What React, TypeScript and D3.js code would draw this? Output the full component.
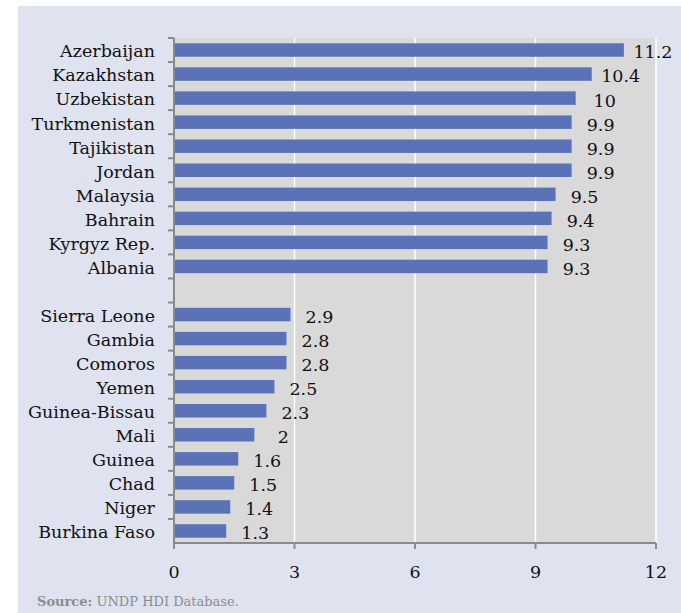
import { useEffect, useRef } from 'react';
import * as d3 from 'd3';

const topCountries = ['Azerbaijan', 'Kazakhstan', 'Uzbekistan', 'Turkmenistan', 'Tajikistan', 'Jordan', 'Malaysia', 'Bahrain', 'Kyrgyz Rep.', 'Albania'];
const topValues = [11.2, 10.4, 10, 9.9, 9.9, 9.9, 9.5, 9.4, 9.3, 9.3];
const bottomCountries = ['Sierra Leone', 'Gambia', 'Comoros', 'Yemen', 'Guinea-Bissau', 'Mali', 'Guinea', 'Chad', 'Niger', 'Burkina Faso'];
const bottomValues = [2.9, 2.8, 2.8, 2.5, 2.3, 2, 1.6, 1.5, 1.4, 1.3];
const xTicks = [0, 3, 6, 9, 12];

const W = 681;
const H = 613;

const App = () => {
  const svgRef = useRef<SVGSVGElement>(null);

  useEffect(() => {
    const svg = d3.select(svgRef.current);
    svg.selectAll('*').remove();

    const font = '"DejaVu Serif", serif';
    const fs = '17.5px';
    const left = 174, right = 656, top = 38, bottom = 543;

    // blank row separates the two groups
    const rows = [
      ...topCountries.map((c, i) => ({ key: c, label: c, value: topValues[i] })),
      { key: '__gap', label: '', value: null as number | null },
      ...bottomCountries.map((c, i) => ({ key: c, label: c, value: bottomValues[i] })),
    ];

    const x = d3.scaleLinear().domain([0, 12]).range([left, right]);
    const y = d3.scaleBand().domain(rows.map(r => r.key)).range([top, bottom])
      .paddingInner(0.44).paddingOuter(0.22);

    // outer panel
    svg.append('rect').attr('x', 18).attr('y', 6).attr('width', W - 18).attr('height', H - 6)
      .attr('fill', '#dfe3f0');

    // plot area
    svg.append('rect').attr('x', left).attr('y', top).attr('width', right - left).attr('height', bottom - top)
      .attr('fill', '#d9d9d9');

    // gridlines
    svg.append('g').selectAll('line').data(xTicks.slice(1)).enter().append('line')
      .attr('x1', d => x(d)).attr('x2', d => x(d))
      .attr('y1', top).attr('y2', bottom)
      .attr('stroke', '#ffffff').attr('stroke-width', 1.5);

    // bars
    const data = rows.filter(r => r.value !== null);
    svg.append('g').selectAll('rect').data(data).enter().append('rect')
      .attr('x', x(0))
      .attr('y', d => y(d.key)!)
      .attr('width', d => x(d.value!) - x(0))
      .attr('height', y.bandwidth())
      .attr('fill', '#5b72b6');

    // value labels
    svg.append('g').selectAll('text').data(data).enter().append('text')
      .attr('x', d => x(d.value!) + 29)
      .attr('y', d => y(d.key)! + y.bandwidth() / 2)
      .attr('dy', '0.48em')
      .attr('text-anchor', 'middle')
      .style('font-family', font).style('font-size', fs).attr('fill', '#111')
      .text(d => String(d.value));

    // category labels
    svg.append('g').selectAll('text').data(rows.filter(r => r.label)).enter().append('text')
      .attr('x', 155)
      .attr('y', d => y(d.key)! + y.bandwidth() / 2)
      .attr('dy', '0.42em')
      .attr('text-anchor', 'end')
      .style('font-family', font).style('font-size', fs).attr('fill', '#111')
      .text(d => d.label);

    const axisColor = '#8a8a8a';
    // y axis line and ticks between categories
    svg.append('line').attr('x1', left).attr('x2', left).attr('y1', top).attr('y2', bottom + 1)
      .attr('stroke', axisColor).attr('stroke-width', 2);
    svg.append('g').selectAll('line').data(d3.range(rows.length)).enter().append('line')
      .attr('x1', left - 6).attr('x2', left)
      .attr('y1', i => top + i * y.step()).attr('y2', i => top + i * y.step())
      .attr('stroke', axisColor).attr('stroke-width', 2);

    // x axis
    svg.append('line').attr('x1', left).attr('x2', right).attr('y1', bottom).attr('y2', bottom)
      .attr('stroke', axisColor).attr('stroke-width', 2);
    svg.append('g').selectAll('line').data(xTicks).enter().append('line')
      .attr('x1', d => x(d)).attr('x2', d => x(d))
      .attr('y1', bottom).attr('y2', bottom + 6)
      .attr('stroke', axisColor).attr('stroke-width', 2);
    svg.append('g').selectAll('text').data(xTicks).enter().append('text')
      .attr('x', d => x(d)).attr('y', 578)
      .attr('text-anchor', 'middle')
      .style('font-family', font).style('font-size', fs).attr('fill', '#111')
      .text(d => String(d));

    // source note
    const src = svg.append('text').attr('x', 37).attr('y', 606)
      .style('font-family', font).style('font-size', '13px').attr('fill', '#8c8c8c');
    src.append('tspan').attr('font-weight', 'bold').text('Source:');
    src.append('tspan').text(' UNDP HDI Database.');
  }, []);

  return (
    <div style={{ position: 'absolute', left: 0, top: 0 }}>
      <svg ref={svgRef} width={W} height={H} style={{ display: 'block', background: '#ffffff' }}></svg>
    </div>
  );
};

export default App;
